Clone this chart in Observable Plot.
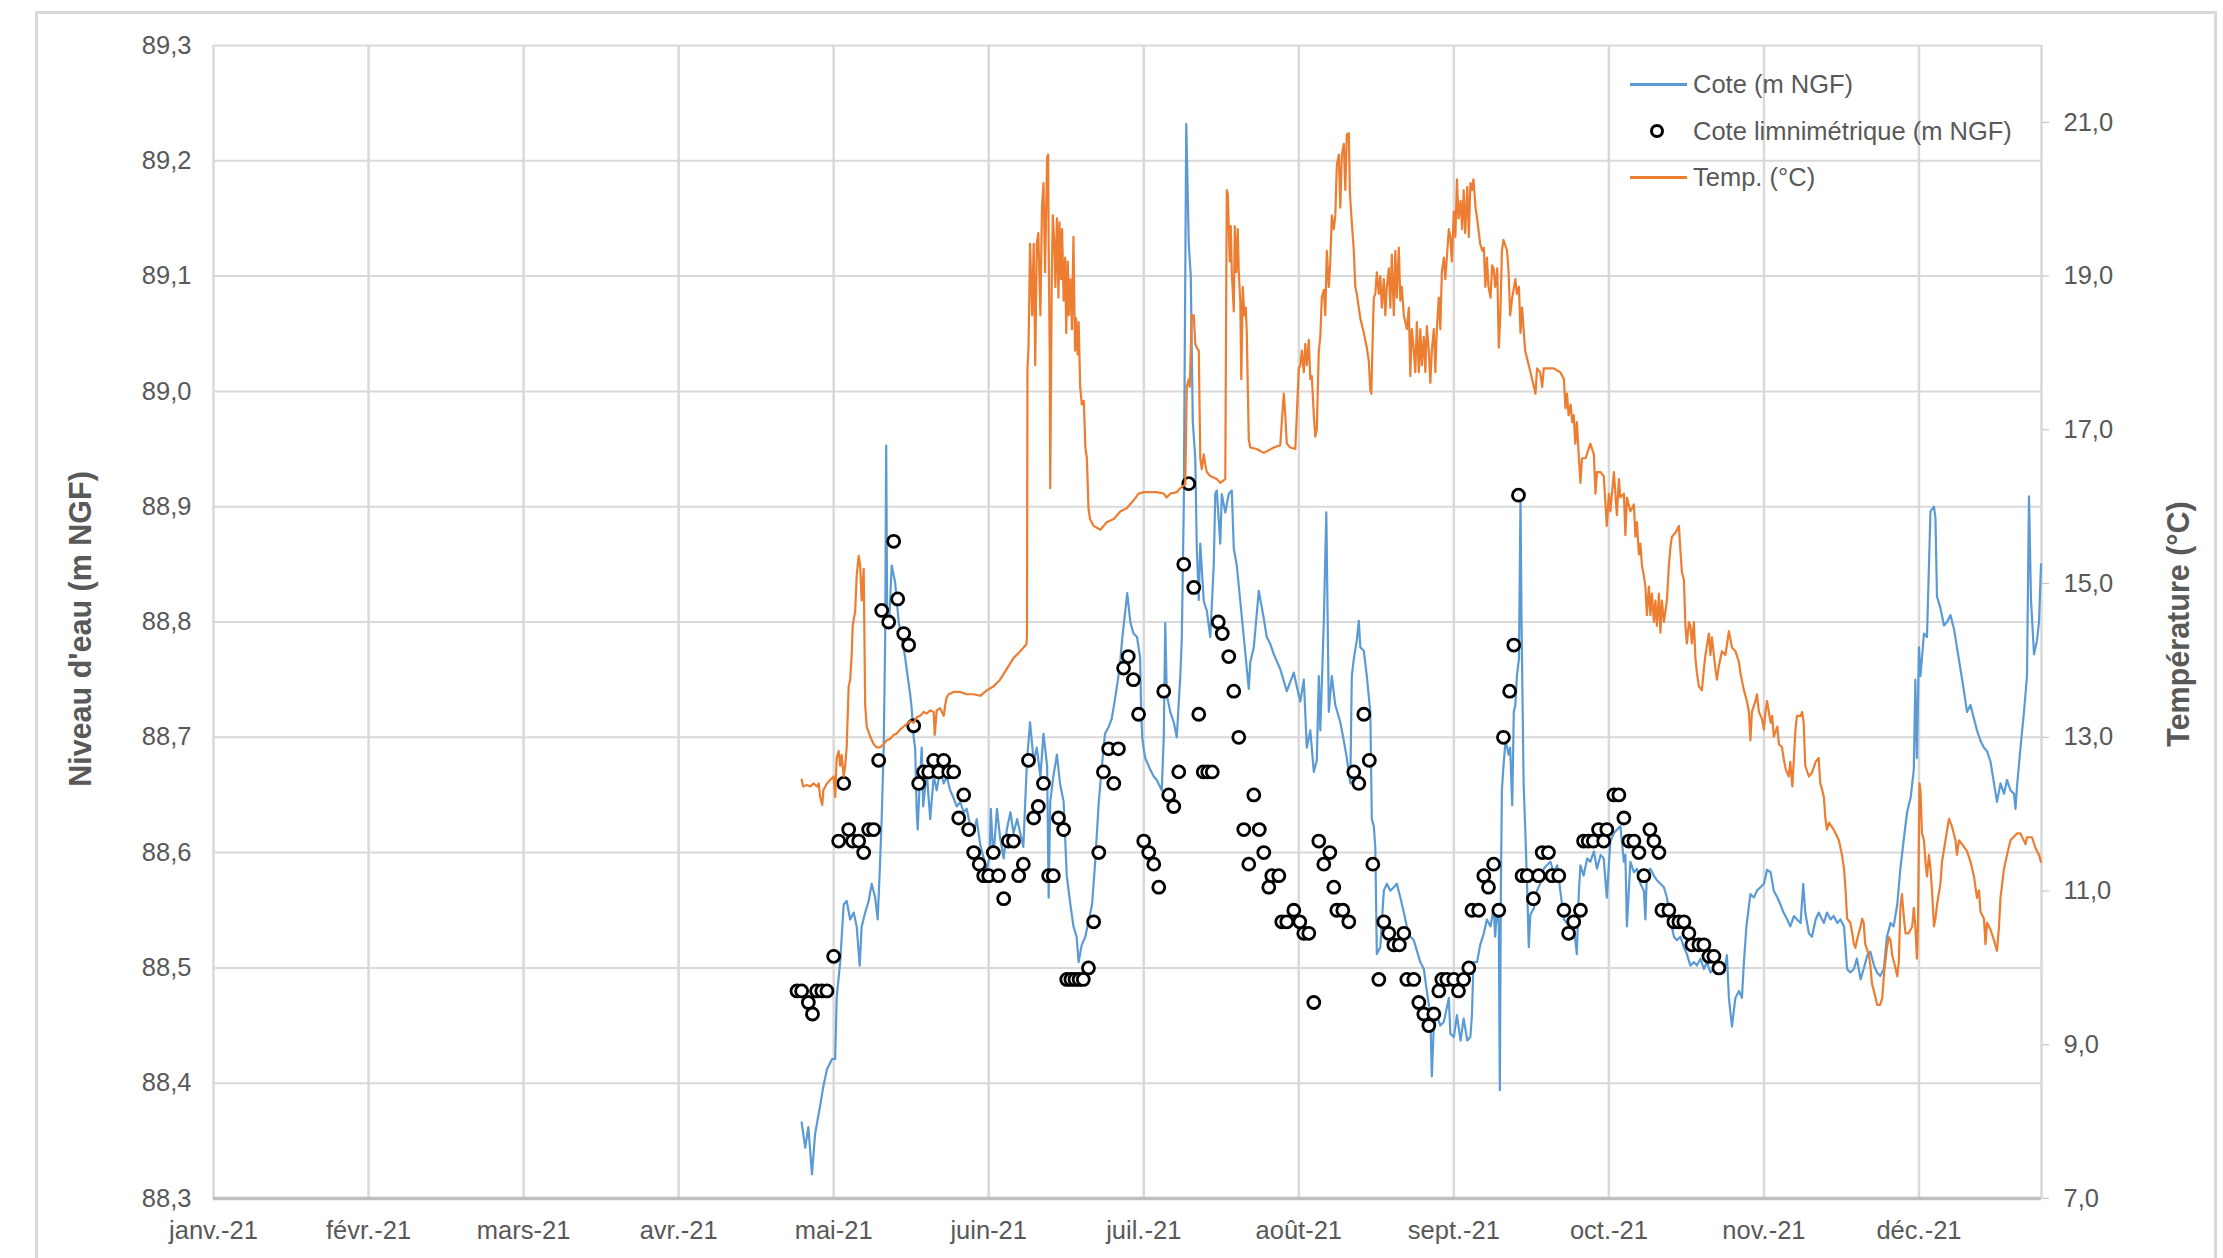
<!DOCTYPE html>
<html><head><meta charset="utf-8">
<script src="https://cdn.jsdelivr.net/npm/d3@7"></script>
<script src="https://cdn.jsdelivr.net/npm/@observablehq/plot@0.6"></script>
<style>
html,body{margin:0;padding:0;background:#fff;overflow:hidden;}
#wrap{position:relative;width:2223px;height:1258px;font-family:"Liberation Sans",Arial,sans-serif;color:#595959;}
#border{position:absolute;left:35px;top:11px;width:2182px;height:1300px;border:3px solid #d9d9d9;box-sizing:border-box;}
#chart{position:absolute;left:0;top:0;}
.title{position:absolute;white-space:nowrap;font-weight:bold;font-size:30.5px;transform:translate(-50%,-50%) rotate(-90deg);}
.leg{position:absolute;font-size:25.5px;line-height:30px;white-space:nowrap;}
.legline{position:absolute;height:2.5px;width:57px;}
.legdot{position:absolute;width:14px;height:14px;border:3px solid #000;border-radius:50%;background:#fff;box-sizing:border-box;}
</style></head>
<body>
<div id="wrap">
  <div id="border"></div>
  <div id="chart"></div>
  <div class="title" style="left:80px;top:629px;">Niveau d'eau (m NGF)</div>
  <div class="title" style="left:2178px;top:624px;">Température (°C)</div>
  <div class="legline" style="left:1630px;top:83px;background:#5B9BD5;"></div>
  <div class="leg" style="left:1693px;top:69px;">Cote (m NGF)</div>
  <div class="legdot" style="left:1650px;top:124px;"></div>
  <div class="leg" style="left:1693px;top:116px;">Cote limnimétrique (m NGF)</div>
  <div class="legline" style="left:1630px;top:176px;background:#ED7D31;"></div>
  <div class="leg" style="left:1693px;top:162px;">Temp. (°C)</div>
</div>
<script>
// ---- data : [mois, jour, valeur] ----
const monthLabels = ["janv.-21","févr.-21","mars-21","avr.-21","mai-21","juin-21","juil.-21","août-21","sept.-21","oct.-21","nov.-21","déc.-21"];
const levelTicks = [88.3,88.4,88.5,88.6,88.7,88.8,88.9,89.0,89.1,89.2,89.3];
const tempTicks = [7,9,11,13,15,17,19,21];

const cote = [
[4,24.8,88.366],[4,25.5,88.344],[4,26.1,88.362],[4,26.8,88.321],[4,27.4,88.356],[4,28.4,88.381],[4,29,88.397],[4,29.7,88.412],[4,30.7,88.421],
[5,1.3,88.421],[5,1.6,88.474],[5,2.3,88.505],[5,3,88.555],[5,3.6,88.558],[5,4.3,88.542],[5,5,88.548],[5,5.6,88.536],[5,6.2,88.502],[5,6.6,88.536],[5,7.3,88.548],[5,8,88.558],[5,8.6,88.573],[5,9.3,88.561],[5,9.8,88.542],[5,10.2,88.583],[5,10.6,88.629],[5,11,88.691],[5,11.3,88.784],[5,11.5,88.953],[5,11.7,88.803],[5,12.1,88.80],[5,12.6,88.849],[5,13.3,88.834],[5,14,88.80],[5,14.6,88.787],[5,15.3,88.769],[5,15.6,88.759],[5,16.3,88.737],[5,16.6,88.725],[5,17,88.70],[5,17.3,88.69],[5,17.6,88.636],[5,17.8,88.62],[5,18.2,88.66],[5,18.6,88.691],[5,18.9,88.64],[5,19.6,88.67],[5,20.3,88.629],[5,21,88.666],[5,21.6,88.654],[5,22.3,88.672],[5,23,88.66],[5,23.6,88.666],[5,24.3,88.654],[5,25,88.647],[5,25.6,88.64],[5,26.3,88.644],[5,27,88.635],[5,27.6,88.638],[5,28.3,88.623],[5,29,88.617],[5,29.6,88.629],[5,30.3,88.607],[5,31,88.595],[5,31.6,88.583],
[6,1.2,88.598],[6,1.4,88.638],[6,1.9,88.595],[6,2.6,88.638],[6,3.2,88.613],[6,3.9,88.595],[6,4.5,88.62],[6,5.2,88.635],[6,5.8,88.617],[6,6.5,88.629],[6,7.1,88.617],[6,7.7,88.605],[6,8.4,88.679],[6,9,88.713],[6,9.7,88.679],[6,10.3,88.691],[6,11,88.666],[6,11.6,88.703],[6,12.3,88.675],[6,12.6,88.561],[6,12.9,88.644],[6,13.5,88.666],[6,14.2,88.685],[6,14.8,88.66],[6,15.5,88.644],[6,16.1,88.58],[6,16.8,88.555],[6,17.4,88.536],[6,18,88.527],[6,18.4,88.505],[6,19,88.52],[6,19.7,88.527],[6,20.3,88.54],[6,21,88.555],[6,21.6,88.592],[6,22.3,88.644],[6,22.9,88.675],[6,23.5,88.703],[6,24.2,88.709],[6,24.8,88.716],[6,25.5,88.735],[6,26.1,88.753],[6,26.5,88.768],[6,26.8,88.784],[6,27.8,88.825],[6,28.4,88.80],[6,29,88.79],[6,29.7,88.787],[6,30.3,88.769],[6,30.5,88.722],[6,30.7,88.70],
[7,1,88.69],[7,1.3,88.682],[7,2.3,88.672],[7,3,88.666],[7,3.6,88.663],[7,4.6,88.654],[7,5,88.70],[7,5.3,88.799],[7,5.6,88.737],[7,6.3,88.722],[7,7,88.713],[7,7.6,88.70],[7,8.3,88.753],[7,8.6,88.784],[7,9,88.90],[7,9.5,89.232],[7,10,89.128],[7,10.4,89.10],[7,10.8,88.974],[7,11.3,88.942],[7,11.6,88.865],[7,12,88.819],[7,12.3,88.868],[7,13,88.818],[7,13.6,88.81],[7,14.3,88.787],[7,15,88.85],[7,15.3,88.911],[7,15.6,88.914],[7,16.3,88.868],[7,16.6,88.911],[7,17.3,88.895],[7,18,88.911],[7,18.6,88.914],[7,19,88.864],[7,19.6,88.849],[7,20.3,88.818],[7,21,88.787],[7,22,88.742],[7,22.3,88.765],[7,23,88.778],[7,24,88.827],[7,25,88.803],[7,25.6,88.787],[7,26.3,88.781],[7,27,88.772],[7,28.3,88.759],[7,29.6,88.74],[7,31,88.756],[7,31.6,88.744],
[8,1.3,88.731],[8,2,88.75],[8,2.6,88.691],[8,3.3,88.706],[8,4,88.67],[8,4.6,88.68],[8,5,88.753],[8,5.3,88.706],[8,6,88.80],[8,6.5,88.895],[8,7,88.722],[8,7.6,88.753],[8,8.3,88.728],[8,9.3,88.713],[8,10,88.697],[8,10.6,88.682],[8,11.3,88.66],[8,11.6,88.753],[8,12,88.768],[8,12.6,88.784],[8,13,88.801],[8,13.3,88.778],[8,14,88.775],[8,14.6,88.753],[8,15.3,88.722],[8,15.6,88.629],[8,16,88.623],[8,16.3,88.604],[8,16.6,88.512],[8,17.3,88.518],[8,18,88.567],[8,18.6,88.573],[8,19.3,88.567],[8,20,88.57],[8,20.6,88.573],[8,21.3,88.561],[8,22,88.548],[8,22.6,88.536],[8,23.3,88.527],[8,24,88.524],[8,24.6,88.515],[8,25.3,88.505],[8,26,88.499],[8,26.6,88.48],[8,27.3,88.459],[8,27.6,88.406],[8,28,88.45],[8,28.6,88.459],[8,29.3,88.45],[8,30,88.453],[8,31,88.474],[8,31.3,88.443],
[9,1,88.44],[9,1.6,88.459],[9,2.3,88.437],[9,2.9,88.456],[9,3.6,88.437],[9,4.2,88.44],[9,4.5,88.459],[9,4.8,88.505],[9,5.5,88.505],[9,6.1,88.52],[9,6.8,88.53],[9,7.4,88.542],[9,8.1,88.536],[9,8.7,88.552],[9,9,88.527],[9,9.4,88.555],[9,9.7,88.536],[9,9.9,88.394],[9,10.1,88.567],[9,10.3,88.654],[9,10.6,88.675],[9,11,88.697],[9,11.6,88.685],[9,11.9,88.691],[9,12.3,88.641],[9,12.6,88.722],[9,12.9,88.728],[9,13.2,88.753],[9,13.6,88.768],[9,13.9,88.908],[9,14.1,88.80],[9,14.5,88.66],[9,14.8,88.623],[9,15.2,88.567],[9,15.5,88.518],[9,15.8,88.546],[9,16.5,88.552],[9,17.1,88.567],[9,17.7,88.573],[9,18.4,88.586],[9,19,88.589],[9,19.7,88.592],[9,20.3,88.583],[9,21,88.589],[9,21.6,88.567],[9,22.3,88.542],[9,22.9,88.539],[9,23.6,88.542],[9,24.2,88.536],[9,24.8,88.512],[9,25.2,88.567],[9,25.5,88.589],[9,26.1,88.58],[9,26.8,88.595],[9,27.4,88.592],[9,28.1,88.601],[9,28.7,88.586],[9,29.4,88.598],[9,30,88.595],[9,30.6,88.561],
[10,1.3,88.61],[10,2,88.617],[10,3.3,88.623],[10,4,88.592],[10,4.3,88.598],[10,4.6,88.536],[10,5.3,88.592],[10,6,88.583],[10,6.6,88.586],[10,7.3,88.573],[10,8,88.567],[10,8.3,88.542],[10,8.6,88.583],[10,9.3,88.586],[10,10,88.58],[10,10.6,88.576],[10,11.3,88.573],[10,12,88.57],[10,12.6,88.561],[10,13.3,88.542],[10,14,88.527],[10,14.6,88.524],[10,15.3,88.527],[10,16,88.518],[10,16.6,88.512],[10,17.3,88.502],[10,18,88.505],[10,18.6,88.502],[10,19.3,88.508],[10,20,88.499],[10,20.6,88.505],[10,21.3,88.496],[10,22,88.499],[10,22.6,88.496],[10,23.3,88.499],[10,24,88.496],[10,24.6,88.511],[10,25,88.474],[10,25.6,88.449],[10,26.3,88.474],[10,27,88.48],[10,27.6,88.474],[10,28,88.505],[10,28.5,88.536],[10,29.3,88.564],[10,30,88.561],[10,30.6,88.567],[10,31.3,88.57],
[11,1,88.573],[11,1.6,88.585],[11,2.3,88.583],[11,2.9,88.567],[11,3.6,88.561],[11,4.2,88.555],[11,4.8,88.548],[11,5.5,88.542],[11,6.1,88.536],[11,6.8,88.545],[11,7.4,88.542],[11,8.1,88.539],[11,8.6,88.573],[11,9,88.548],[11,9.7,88.53],[11,10.3,88.527],[11,11,88.542],[11,11.6,88.548],[11,12.6,88.539],[11,13.2,88.548],[11,13.9,88.542],[11,14.5,88.545],[11,15.2,88.539],[11,15.8,88.542],[11,16.5,88.536],[11,17.1,88.499],[11,17.7,88.496],[11,18.4,88.499],[11,19,88.508],[11,19.7,88.49],[11,20.3,88.499],[11,21,88.511],[11,21.6,88.514],[11,22.3,88.502],[11,22.9,88.496],[11,23.5,88.493],[11,24.2,88.499],[11,24.8,88.527],[11,25.5,88.539],[11,26.1,88.536],[11,26.8,88.555],[11,27.4,88.586],[11,28.1,88.613],[11,28.7,88.635],[11,29.4,88.648],[11,30,88.672],[11,30.3,88.75],[11,30.6,88.682],
[12,1,88.778],[12,1.3,88.753],[12,2,88.79],[12,2.6,88.787],[12,3.3,88.896],[12,4,88.90],[12,4.3,88.89],[12,4.6,88.822],[12,5.3,88.812],[12,6,88.797],[12,6.6,88.80],[12,7.3,88.806],[12,8,88.794],[12,8.6,88.778],[12,9.3,88.759],[12,10,88.74],[12,10.6,88.722],[12,11.3,88.728],[12,12,88.716],[12,12.6,88.706],[12,13.3,88.697],[12,14,88.691],[12,14.6,88.688],[12,15.3,88.679],[12,16,88.66],[12,16.6,88.644],[12,17.3,88.66],[12,18,88.651],[12,18.6,88.663],[12,19.3,88.654],[12,20,88.651],[12,20.3,88.638],[12,20.6,88.657],[12,21.3,88.691],[12,22,88.722],[12,22.6,88.753],[12,23,88.909],[12,23.4,88.819],[12,24,88.772],[12,24.6,88.784],[12,25,88.80],[12,25.4,88.85]
];

const limni = [
[4,23.9,88.48],[4,24.8,88.48],[4,26.1,88.47],[4,26.9,88.46],[4,27.7,88.48],[4,28.7,88.48],[4,29.7,88.48],
[5,1,88.51],[5,2,88.61],[5,3,88.66],[5,4,88.62],[5,4.8,88.61],[5,6,88.61],[5,7,88.60],[5,8,88.62],[5,9,88.62],[5,10,88.68],[5,10.6,88.81],[5,12,88.80],[5,13,88.87],[5,13.8,88.82],[5,15,88.79],[5,16,88.78],[5,17,88.71],[5,18,88.66],[5,19,88.67],[5,20,88.67],[5,21,88.68],[5,22,88.67],[5,23,88.68],[5,24,88.67],[5,25,88.67],[5,26,88.63],[5,27,88.65],[5,28,88.62],[5,29,88.60],[5,30.1,88.59],[5,31,88.58],
[6,1,88.58],[6,1.9,88.60],[6,2.9,88.58],[6,3.9,88.56],[6,4.8,88.61],[6,5.8,88.61],[6,6.8,88.58],[6,7.7,88.59],[6,8.7,88.68],[6,9.7,88.63],[6,10.6,88.64],[6,11.6,88.66],[6,12.6,88.58],[6,13.5,88.58],[6,14.5,88.63],[6,15.5,88.62],[6,16.1,88.49],[6,16.9,88.49],[6,17.7,88.49],[6,18.5,88.49],[6,19.3,88.49],[6,20.3,88.50],[6,21.3,88.54],[6,22.3,88.60],[6,23.2,88.67],[6,24.2,88.69],[6,25.2,88.66],[6,26.1,88.69],[6,27.1,88.76],[6,28,88.77],[6,29,88.75],[6,30,88.72],
[7,1,88.61],[7,2,88.60],[7,3,88.59],[7,4,88.57],[7,5,88.74],[7,6,88.65],[7,7,88.64],[7,8,88.67],[7,9,88.85],[7,10,88.92],[7,11,88.83],[7,12,88.72],[7,12.9,88.67],[7,13.8,88.67],[7,14.7,88.67],[7,15.9,88.80],[7,16.7,88.79],[7,18,88.77],[7,19,88.74],[7,20,88.70],[7,21,88.62],[7,22,88.59],[7,23,88.65],[7,24.1,88.62],[7,25,88.60],[7,26,88.57],[7,26.6,88.58],[7,28,88.58],[7,28.6,88.54],[7,29.6,88.54],[7,31,88.55],
[8,1.2,88.54],[8,2,88.53],[8,3,88.53],[8,4,88.47],[8,5,88.61],[8,6,88.59],[8,7.2,88.60],[8,8,88.57],[8,8.6,88.55],[8,9.8,88.55],[8,11,88.54],[8,12,88.67],[8,13,88.66],[8,14,88.72],[8,15.1,88.68],[8,15.8,88.59],[8,17,88.49],[8,18,88.54],[8,19,88.53],[8,20,88.52],[8,21.1,88.52],[8,22,88.53],[8,22.6,88.49],[8,24,88.49],[8,25,88.47],[8,26,88.46],[8,27,88.45],[8,28,88.46],[8,29,88.48],[8,29.6,88.49],[8,30.6,88.49],
[9,1,88.49],[9,1.9,88.48],[9,2.9,88.49],[9,3.9,88.50],[9,4.5,88.55],[9,5.8,88.55],[9,6.8,88.58],[9,7.7,88.57],[9,8.7,88.59],[9,9.7,88.55],[9,10.6,88.70],[9,11.8,88.74],[9,12.6,88.78],[9,13.5,88.91],[9,14.2,88.58],[9,15.2,88.58],[9,16.4,88.56],[9,17.4,88.58],[9,18.1,88.60],[9,19.3,88.60],[9,20,88.58],[9,21.3,88.58],[9,22.3,88.55],[9,23.2,88.53],[9,24.2,88.54],[9,25.5,88.55],[9,26.1,88.61],[9,27,88.61],[9,28,88.61],[9,29,88.62],[9,30,88.61],[9,30.6,88.62],
[10,2,88.65],[10,3,88.65],[10,4,88.63],[10,5,88.61],[10,6,88.61],[10,7,88.60],[10,8,88.58],[10,9.2,88.62],[10,10,88.61],[10,11,88.60],[10,11.6,88.55],[10,13,88.55],[10,14,88.54],[10,15,88.54],[10,16,88.54],[10,17,88.53],[10,17.6,88.52],[10,19,88.52],[10,20,88.52],[10,21,88.51],[10,22,88.51],[10,23,88.50]
];

const temp = [
[4,24.8,12.45],[4,25.1,12.36],[4,25.8,12.38],[4,26.5,12.36],[4,27.1,12.40],[4,27.8,12.36],[4,28.1,12.40],[4,28.4,12.22],[4,28.8,12.12],[4,29,12.31],[4,29.7,12.40],[4,30.4,12.45],
[5,1,12.49],[5,1.3,12.22],[5,1.6,12.73],[5,2,12.82],[5,2.3,12.63],[5,2.6,12.77],[5,3,12.49],[5,3.3,12.63],[5,3.6,12.87],[5,4,13.66],[5,4.3,13.75],[5,4.6,14.07],[5,4.8,14.45],[5,5.3,14.64],[5,5.6,15.10],[5,6,15.36],[5,6.3,15.24],[5,6.6,14.78],[5,7,15.19],[5,7.3,13.42],[5,7.6,13.14],[5,8.3,13.01],[5,9,12.91],[5,9.6,12.87],[5,10.3,12.87],[5,11,12.91],[5,11.6,12.96],[5,12.3,12.98],[5,13,13.03],[5,13.6,13.05],[5,14.3,13.10],[5,15,13.14],[5,15.6,13.17],[5,16.3,13.21],[5,17,13.19],[5,17.6,13.26],[5,18.3,13.28],[5,19,13.33],[5,19.6,13.31],[5,20.3,13.35],[5,21,13.33],[5,21.2,13.03],[5,21.6,13.35],[5,22.3,13.38],[5,23,13.28],[5,23.3,13.42],[5,23.6,13.52],[5,24,13.56],[5,25,13.59],[5,26.3,13.59],[5,27.6,13.56],[5,29,13.56],[5,30.3,13.54],[5,31.6,13.61],
[6,1.9,13.66],[6,3.2,13.75],[6,4.5,13.89],[6,5.8,14.03],[6,7.1,14.12],[6,8.3,14.21],[6,8.4,14.31],[6,8.5,17.80],[6,8.7,18.07],[6,9,19.42],[6,9.4,18.49],[6,9.7,19.42],[6,10,17.84],[6,10.3,19.42],[6,10.6,19.56],[6,11,18.49],[6,11.3,19.89],[6,11.6,20.21],[6,11.9,19.05],[6,12.3,20.54],[6,12.5,20.58],[6,12.6,19.42],[6,12.8,18.03],[6,12.9,16.24],[6,13.2,18.96],[6,13.4,19.79],[6,13.7,19.42],[6,13.9,18.86],[6,14.2,19.75],[6,14.5,18.72],[6,14.7,19.70],[6,15,18.96],[6,15.2,19.61],[6,15.5,18.68],[6,15.8,19.24],[6,16,18.26],[6,16.3,19.19],[6,16.5,18.49],[6,16.8,18.96],[6,17.1,18.31],[6,17.4,19.51],[6,17.7,18.03],[6,17.9,18.45],[6,18.2,17.98],[6,18.4,18.40],[6,18.7,17.56],[6,19,17.33],[6,19.4,17.38],[6,19.7,16.77],[6,20,16.63],[6,20.3,15.98],[6,20.6,15.84],[6,21.3,15.75],[6,22.6,15.70],[6,23.9,15.80],[6,25.2,15.84],[6,26.5,15.94],[6,27.7,15.98],[6,29,16.08],[6,30,16.17],
[7,1,16.19],[7,2.3,16.19],[7,3.6,16.19],[7,5,16.17],[7,5.6,16.12],[7,6.3,16.17],[7,7.6,16.19],[7,8.3,16.24],[7,9.3,16.29],[7,9.6,17.56],[7,10,17.66],[7,10.2,17.56],[7,10.4,18.03],[7,10.6,18.49],[7,11,18.49],[7,11.3,18.12],[7,11.6,18.07],[7,12,18.03],[7,12.3,16.63],[7,12.6,16.49],[7,13,16.68],[7,13.3,16.55],[7,13.6,16.45],[7,14.3,16.40],[7,15.6,16.36],[7,16.3,16.31],[7,17.3,16.36],[7,17.6,20.12],[7,17.8,20.07],[7,18.2,19.19],[7,18.4,19.65],[7,18.6,19.05],[7,19,18.54],[7,19.2,19.65],[7,19.5,19.05],[7,19.8,19.61],[7,20,19.05],[7,20.3,18.68],[7,20.5,17.66],[7,20.8,18.86],[7,21.1,18.49],[7,21.4,18.59],[7,21.6,18.26],[7,22,16.87],[7,22.3,16.77],[7,23.6,16.75],[7,25,16.70],[7,27,16.77],[7,28.3,16.80],[7,28.6,17.10],[7,29,17.47],[7,29.3,17.19],[7,29.6,16.82],[7,30.3,16.77],[7,31.3,16.75],[7,31.6,17.19],
[8,1,17.80],[8,1.3,17.84],[8,1.6,18.03],[8,2,17.75],[8,2.3,18.12],[8,2.6,17.84],[8,3,18.17],[8,3.3,17.66],[8,3.6,17.70],[8,4,17.19],[8,4.3,16.91],[8,4.6,17.00],[8,5,18.03],[8,5.3,18.21],[8,5.6,18.72],[8,6,18.82],[8,6.3,18.49],[8,6.6,19.33],[8,7,18.86],[8,7.3,19.19],[8,7.6,19.79],[8,8,19.61],[8,8.3,19.79],[8,8.6,20.44],[8,9,20.58],[8,9.3,19.89],[8,9.6,20.58],[8,10,20.72],[8,10.3,20.12],[8,10.6,20.84],[8,11,20.86],[8,11.2,20.12],[8,11.4,19.89],[8,11.7,19.61],[8,12,19.33],[8,12.3,18.86],[8,12.6,18.77],[8,13.3,18.45],[8,14,18.26],[8,14.6,18.07],[8,15,17.89],[8,15.3,17.52],[8,15.5,17.47],[8,15.8,18.26],[8,16,18.72],[8,16.3,18.77],[8,16.6,19.05],[8,17,18.77],[8,17.3,19.00],[8,17.6,18.59],[8,18,18.96],[8,18.3,18.49],[8,18.6,18.86],[8,19,19.10],[8,19.3,18.59],[8,19.6,19.28],[8,20,18.49],[8,20.3,19.33],[8,20.6,18.72],[8,21,19.37],[8,21.3,18.68],[8,21.6,18.86],[8,22,18.49],[8,22.6,18.31],[8,23,18.59],[8,23.3,17.70],[8,23.6,18.31],[8,24,18.03],[8,24.3,17.75],[8,24.6,18.40],[8,25,17.75],[8,25.3,18.31],[8,25.6,17.84],[8,26,18.21],[8,26.3,17.75],[8,26.6,18.35],[8,27,18.03],[8,27.3,17.61],[8,27.6,18.03],[8,28,18.31],[8,28.3,17.75],[8,28.6,18.31],[8,29,18.72],[8,29.3,18.31],[8,29.6,19.05],[8,30,19.24],[8,30.3,18.96],[8,30.6,19.24],[8,31,19.61],[8,31.3,19.51],[8,31.6,19.19],
[9,1,19.84],[9,1.3,19.51],[9,1.6,20.26],[9,1.9,19.75],[9,2.3,19.98],[9,2.6,19.61],[9,2.9,20.12],[9,3.2,19.56],[9,3.6,20.16],[9,3.9,19.51],[9,4.2,20.21],[9,4.5,20.12],[9,4.8,20.26],[9,5.2,19.89],[9,5.5,19.75],[9,6.1,19.42],[9,6.5,19.33],[9,6.8,19.37],[9,7.1,18.86],[9,7.4,19.24],[9,7.7,18.86],[9,8.1,18.72],[9,8.4,19.14],[9,8.7,19.10],[9,9,18.86],[9,9.4,19.10],[9,9.7,18.07],[9,10,18.49],[9,10.3,19.33],[9,10.6,19.47],[9,11.3,19.33],[9,11.6,19.05],[9,11.9,18.49],[9,12.3,18.72],[9,12.9,18.96],[9,13.2,18.77],[9,13.6,18.86],[9,13.9,18.26],[9,14.2,18.59],[9,14.8,18.03],[9,15.5,17.84],[9,16.5,17.56],[9,16.8,17.47],[9,17.1,17.80],[9,17.7,17.75],[9,18.1,17.56],[9,18.4,17.80],[9,19,17.80],[9,20.3,17.80],[9,21.6,17.75],[9,22.3,17.66],[9,22.6,17.28],[9,22.9,17.47],[9,23.2,17.19],[9,23.6,17.33],[9,23.9,17.10],[9,24.2,17.19],[9,24.5,16.82],[9,24.8,17.10],[9,25.2,16.63],[9,25.5,16.31],[9,25.8,16.63],[9,26.5,16.63],[9,27.4,16.82],[9,28.1,16.68],[9,28.4,16.17],[9,28.7,16.45],[9,29.4,16.45],[9,30,16.40],[9,30.6,15.75],
[10,1,16.17],[10,1.3,15.94],[10,2,16.45],[10,2.3,16.17],[10,2.6,15.89],[10,3,16.36],[10,3.3,16.12],[10,4,16.17],[10,4.3,15.63],[10,4.6,16.12],[10,5.3,15.94],[10,6,16.03],[10,6.3,15.61],[10,6.6,15.80],[10,7,15.38],[10,7.3,15.52],[10,7.6,15.24],[10,8,15.10],[10,8.3,14.96],[10,8.6,14.59],[10,9,14.96],[10,9.3,14.59],[10,9.6,14.87],[10,10,14.50],[10,10.3,14.78],[10,10.6,14.45],[10,11,14.87],[10,11.3,14.36],[10,11.6,14.78],[10,12,14.50],[10,12.6,14.78],[10,13,15.24],[10,13.3,15.47],[10,13.6,15.61],[10,14.3,15.66],[10,15,15.75],[10,15.3,15.43],[10,15.6,15.15],[10,16,15.05],[10,16.3,14.45],[10,16.6,14.22],[10,17,14.50],[10,17.3,14.45],[10,17.6,14.22],[10,18,14.50],[10,18.3,14.03],[10,18.6,13.84],[10,19,13.66],[10,19.6,13.61],[10,20,13.89],[10,20.3,14.07],[10,21,14.35],[10,21.3,14.07],[10,21.6,14.30],[10,22.3,13.89],[10,22.6,13.75],[10,23,13.93],[10,23.6,14.12],[10,24.3,14.07],[10,25,14.38],[10,25.6,14.17],[10,26.3,14.12],[10,27,13.98],[10,27.3,13.84],[10,28,13.61],[10,28.6,13.47],[10,29,13.33],[10,29.3,12.96],[10,29.6,13.33],[10,30.3,13.47],[10,30.6,13.56],[10,31,13.33],[10,31.6,13.24],
[11,1,13.10],[11,1.3,13.33],[11,1.6,13.47],[11,2.3,13.19],[11,2.6,13.28],[11,2.9,13.01],[11,3.6,13.14],[11,3.9,12.91],[11,4.5,12.87],[11,4.8,12.73],[11,5.2,12.59],[11,5.8,12.49],[11,6.1,12.68],[11,6.5,12.36],[11,6.8,12.73],[11,7.1,13.10],[11,7.4,13.28],[11,8.1,13.28],[11,8.4,13.33],[11,8.7,13.19],[11,9,12.63],[11,9.7,12.49],[11,10.3,12.54],[11,11,12.68],[11,11.6,12.73],[11,11.9,12.40],[11,12.3,12.31],[11,12.6,12.22],[11,12.9,11.94],[11,13.2,11.80],[11,13.6,11.89],[11,14.5,11.80],[11,15.5,11.66],[11,16.1,11.47],[11,16.5,11.29],[11,16.8,11.01],[11,17.1,10.64],[11,17.7,10.59],[11,18.1,10.45],[11,18.4,10.31],[11,18.7,10.26],[11,19,10.36],[11,19.7,10.54],[11,20,10.64],[11,20.3,10.59],[11,20.6,10.31],[11,21.3,10.17],[11,21.6,10.03],[11,21.9,9.80],[11,22.6,9.61],[11,22.9,9.52],[11,23.5,9.52],[11,23.9,9.61],[11,24.2,9.89],[11,24.5,10.08],[11,24.8,10.26],[11,25.2,10.40],[11,25.5,10.36],[11,25.8,10.17],[11,26.5,9.99],[11,26.8,9.89],[11,27.1,10.08],[11,27.4,10.78],[11,27.7,10.96],[11,28.1,10.64],[11,28.4,10.45],[11,29,10.45],[11,29.7,10.54],[11,30,10.78],[11,30.3,10.54],[11,30.6,10.12],[11,30.8,10.54],
[12,1.1,12.40],[12,1.3,12.31],[12,1.6,11.75],[12,2,11.66],[12,2.3,11.38],[12,2.6,11.19],[12,3,11.47],[12,3.3,11.29],[12,3.6,11.01],[12,4,10.54],[12,4.3,10.64],[12,4.6,10.82],[12,5.3,11.10],[12,5.6,11.38],[12,6.3,11.66],[12,7,11.94],[12,7.6,11.84],[12,8.3,11.66],[12,8.6,11.47],[12,9,11.66],[12,9.6,11.61],[12,10.6,11.52],[12,11.3,11.38],[12,12,11.19],[12,12.6,10.91],[12,13,11.01],[12,13.3,10.73],[12,14,10.64],[12,14.3,10.31],[12,14.6,10.59],[12,15.3,10.50],[12,16,10.36],[12,16.6,10.22],[12,17,10.54],[12,17.3,10.91],[12,18,11.29],[12,18.6,11.47],[12,19.3,11.66],[12,20.6,11.75],[12,21.3,11.75],[12,22.3,11.61],[12,22.6,11.70],[12,23.6,11.70],[12,24.3,11.56],[12,25,11.47],[12,25.4,11.38]
];

// ---- helpers ----
const daysIn = [31,28,31,30,31,30,31,31,30,31,30,31];
const toX = d => (d[0] - 1) + (d[1] - 1) / daysIn[d[0] - 1];
const tToY = d3.scaleLinear([7, 22], [88.3, 89.3]);
const fmt = v => v.toFixed(1).replace(".", ",");
const monthIdx = d3.range(12);
const xMax = 11 + 24.5 / 31;

const chart = Plot.plot({
  width: 2223,
  height: 1258,
  marginLeft: 213,
  marginRight: 182,
  marginTop: 45,
  marginBottom: 60,
  style: {fontFamily: "'Liberation Sans', Arial, sans-serif", fontSize: "25.5px", color: "#595959", background: "transparent", overflow: "visible"},
  x: {domain: [0, xMax]},
  y: {domain: [88.3, 89.3]},
  marks: [
    Plot.ruleY(levelTicks, {stroke: "#d9d9d9", strokeWidth: 2}),
    Plot.ruleX(monthIdx, {stroke: "#d9d9d9", strokeWidth: 2.5}),
    Plot.ruleX([xMax], {stroke: "#d9d9d9", strokeWidth: 2.5}),
    Plot.ruleY([88.3], {stroke: "#bfbfbf", strokeWidth: 3.5}),
    Plot.axisY(levelTicks, {anchor: "left", tickSize: 0, tickPadding: 22, tickFormat: fmt}),
    Plot.axisY(tempTicks.map(tToY), {anchor: "right", tickSize: 7, tickPadding: 15, stroke: "#bfbfbf", fill: "#595959", tickFormat: v => fmt(tToY.invert(v))}),
    Plot.axisX(monthIdx, {anchor: "bottom", tickSize: 0, tickPadding: 22, tickFormat: i => monthLabels[i]}),
    Plot.line(cote, {x: toX, y: d => d[2], stroke: "#5B9BD5", strokeWidth: 2.2}),
    Plot.dot(limni, {x: toX, y: d => d[2], r: 6, fill: "white", stroke: "black", strokeWidth: 2.8}),
    Plot.line(temp, {x: toX, y: d => tToY(d[2]), stroke: "#ED7D31", strokeWidth: 2.2})
  ]
});
document.getElementById("chart").appendChild(chart);
</script>
</body></html>
